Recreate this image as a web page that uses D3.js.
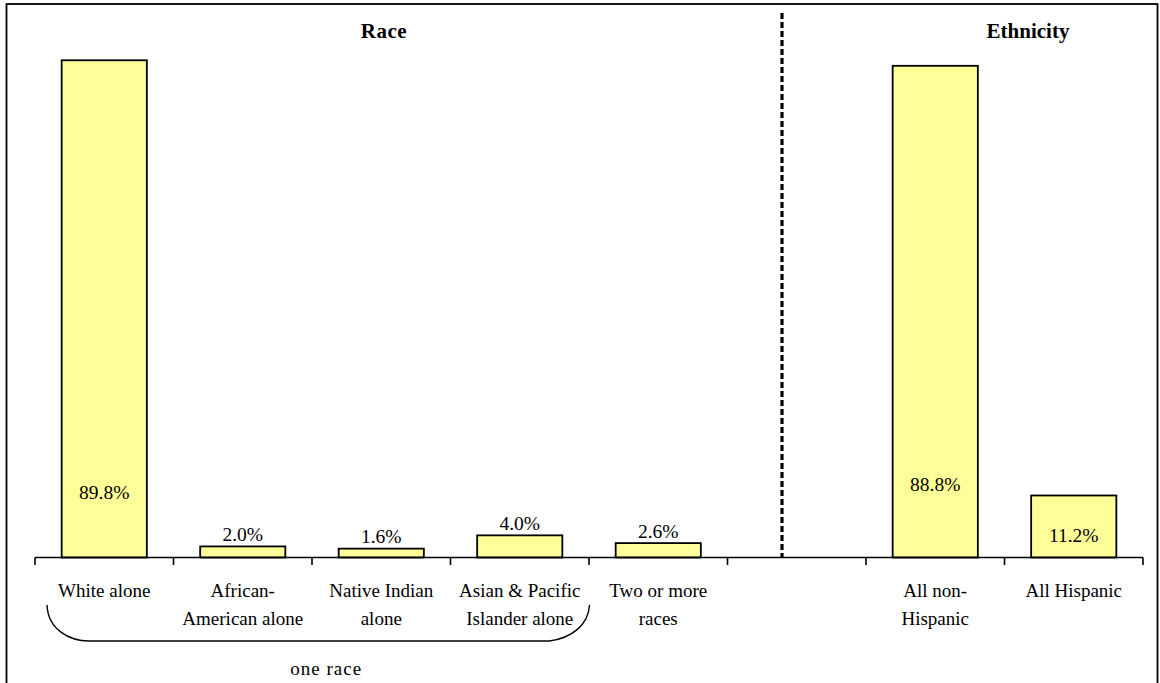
<!DOCTYPE html>
<html>
<head>
<meta charset="utf-8">
<script src="https://cdn.jsdelivr.net/npm/d3@7"></script>
<style>
  html, body { margin: 0; padding: 0; background: #fff; }
  svg { display: block; }
</style>
</head>
<body>
<svg id="chart" width="1160" height="683"></svg>
<script>
// Population shares by race and by ethnicity (percent)
const categories = ["white", "african", "native", "asian", "multi", "gap", "nonhisp", "hisp"];
const tickLabels = [
  ["White alone"],
  ["African-", "American alone"],
  ["Native Indian", "alone"],
  ["Asian & Pacific", "Islander alone"],
  ["Two or more", "races"],
  [],
  ["All non-", "Hispanic"],
  ["All Hispanic"]
];
const values = [89.8, 2.0, 1.6, 4.0, 2.6, null, 88.8, 11.2];
const valueLabels = ["89.8%", "2.0%", "1.6%", "4.0%", "2.6%", "", "88.8%", "11.2%"];
const groupTitles = ["Race", "Ethnicity"];
const braceLabel = "one race";

const FONT = "'Liberation Serif', 'Times New Roman', Tinos, 'DejaVu Serif', serif";

const svg = d3.select("#chart").attr("font-family", FONT);
const H = 683;

// frame around the whole chart
svg.append("rect")
  .attr("x", 6.5).attr("y", 4)
  .attr("width", 1151).attr("height", H + 10)
  .attr("fill", "none").attr("stroke", "#000").attr("stroke-width", 1.8);

const x = d3.scaleBand()
  .domain(categories)
  .range([35, 1143])
  .paddingInner(0.385)
  .paddingOuter(0.1925);

const y = d3.scaleLinear().domain([0, 100]).range([557.5, 3.8]);

const data = categories.map((c, i) => ({ key: c, value: values[i], label: valueLabels[i], lines: tickLabels[i] }));

// bars
svg.append("g").selectAll("rect")
  .data(data.filter(d => d.value != null))
  .join("rect")
  .attr("x", d => x(d.key))
  .attr("y", d => y(d.value))
  .attr("width", x.bandwidth())
  .attr("height", d => y(0) - y(d.value))
  .attr("fill", "#FFFF99")
  .attr("stroke", "#000")
  .attr("stroke-width", 1.8);

// category axis: baseline with ticks at slot boundaries
const half = x.step() * x.paddingInner() / 2;
const bounds = categories.map(c => x(c) - half)
  .concat([x(categories[categories.length - 1]) + x.bandwidth() + half]);
const axis = svg.append("g");
axis.append("line")
  .attr("x1", bounds[0]).attr("x2", bounds[bounds.length - 1])
  .attr("y1", y(0)).attr("y2", y(0))
  .attr("stroke", "#000").attr("stroke-width", 1.6);
axis.selectAll("line.tick")
  .data(bounds)
  .join("line")
  .attr("class", "tick")
  .attr("x1", d => d).attr("x2", d => d)
  .attr("y1", y(0)).attr("y2", y(0) + 7.5)
  .attr("stroke", "#000").attr("stroke-width", 1.6);

// category labels (one or two lines)
const labelG = svg.append("g").attr("font-family", FONT);
data.forEach(d => {
  const cx = x(d.key) + x.bandwidth() / 2;
  d.lines.forEach((line, j) => {
    labelG.append("text")
      .attr("x", cx)
      .attr("y", 596.7 + j * 28.3)
      .attr("text-anchor", "middle")
      .attr("font-size", 19)
      .attr("fill", "#000")
      .text(line);
  });
});

// value labels: short bars carry the label above, tall bars inside
const insideLift = { white: 58.2, nonhisp: 66.8, hisp: 15.8 };
svg.append("g").attr("font-family", FONT).selectAll("text")
  .data(data.filter(d => d.value != null))
  .join("text")
  .attr("x", d => x(d.key) + x.bandwidth() / 2)
  .attr("y", d => insideLift[d.key] != null ? y(0) - insideLift[d.key] : y(d.value) - 5.6)
  .attr("text-anchor", "middle")
  .attr("font-size", 19.5)
  .attr("fill", "#000")
  .text(d => d.label);

// dashed divider between race and ethnicity
const dividerX = bounds[5] + 54.5;
svg.append("line")
  .attr("x1", dividerX).attr("x2", dividerX)
  .attr("y1", 13).attr("y2", y(0))
  .attr("stroke", "#000").attr("stroke-width", 3.2)
  .attr("stroke-dasharray", "6,3");

// group titles
svg.append("text")
  .attr("x", 384).attr("y", 38.3)
  .attr("text-anchor", "middle")
  .attr("font-family", FONT)
  .attr("font-size", 21).attr("font-weight", "bold")
  .attr("letter-spacing", 0.5)
  .text(groupTitles[0]);
svg.append("text")
  .attr("x", 1028).attr("y", 37.7)
  .attr("text-anchor", "middle")
  .attr("font-family", FONT)
  .attr("font-size", 21).attr("font-weight", "bold")
  .text(groupTitles[1]);

// brace grouping the single-race categories
const bl = bounds[0] + 12, br = bounds[4] + 0.5;
const bTop = 605, bBot = 641;
const p = d3.path();
p.moveTo(bl, bTop);
p.bezierCurveTo(bl + 1, bTop + 25, bl + 23, bBot, bl + 42, bBot);
p.lineTo(br - 40, bBot);
p.bezierCurveTo(br - 18, bBot - 3, br - 1, bBot - 16, br, bTop);
svg.append("path")
  .attr("d", p.toString())
  .attr("fill", "none").attr("stroke", "#000").attr("stroke-width", 1.4);

svg.append("text")
  .attr("x", (bl + br) / 2 + 8).attr("y", 675)
  .attr("text-anchor", "middle")
  .attr("font-family", FONT)
  .attr("font-size", 19)
  .attr("letter-spacing", 1)
  .text(braceLabel);
</script>
</body>
</html>
